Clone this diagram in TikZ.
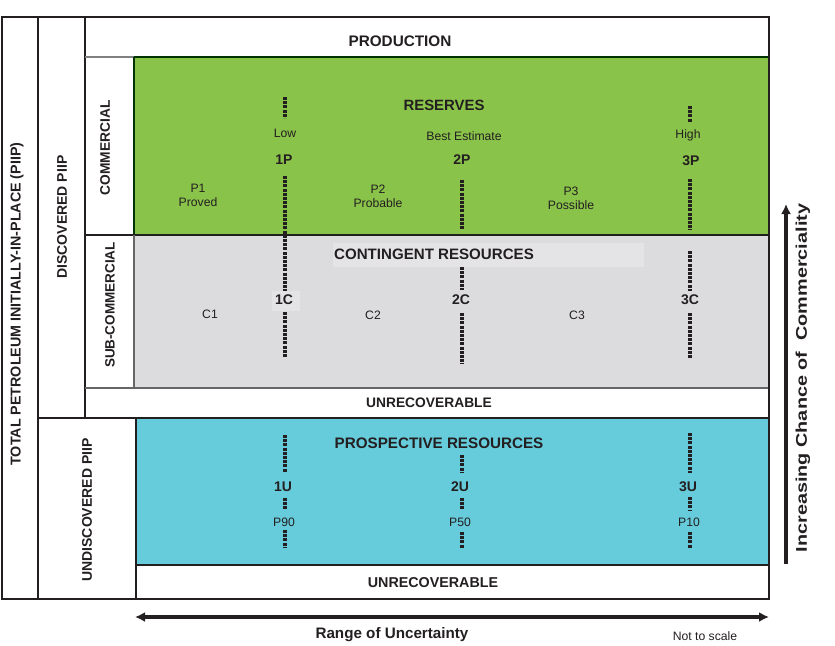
\documentclass[tikz,border=0pt]{standalone}
\usepackage{fontspec}
\setmainfont{Liberation Sans}
\usetikzlibrary{arrows.meta}
\definecolor{resgreen}{RGB}{138,195,74}
\definecolor{congray}{RGB}{220,220,222}
\definecolor{congraylt}{RGB}{228,228,230}
\definecolor{prosblue}{RGB}{102,203,218}
\definecolor{txt}{RGB}{35,31,32}
\newcommand{\fsz}[1]{\fontsize{#1}{#1}\selectfont}
\tikzset{
  head/.style={text=txt, inner sep=1pt},
  code/.style={font=\fsz{14}\bfseries, text=txt, inner sep=1pt},
  lab/.style={font=\fontsize{12.2}{14}\selectfont, text=txt, inner sep=1pt, align=center},
  side/.style={text=txt, rotate=90, inner sep=1pt},
  dl/.style={line width=4pt, dash pattern=on 3pt off 1.2pt, draw=txt},
  frame/.style={line width=1.2pt, draw=txt},
  tipb/.tip={Latex[length=10pt,width=10pt]},
  bigarrow/.style={line width=3.5pt, draw=txt, -tipb},
}
\begin{document}
\begin{tikzpicture}[x=1pt,y=-1pt]
\useasboundingbox (0,0) rectangle (835,645);
% coloured regions
\fill[resgreen] (134,57) rectangle (769,235);
\fill[congray] (134,235) rectangle (769,388);
\fill[congraylt] (333,243) rectangle (644,267);
\fill[congraylt] (272,291) rectangle (300,311);
\fill[prosblue] (136,418) rectangle (769,565);
% frame lines
\draw[frame] (2,17) rectangle (769,599);
\draw[frame] (38,17) -- (38,599);
\draw[frame] (85,17) -- (85,418);
\draw[draw=gray, line width=1.2pt] (85,57) -- (134,57);
\draw[draw=black!80!green, line width=1.4pt] (134,57) -- (769,57);
\draw[draw=black!80!green, line width=1.4pt] (134,57) -- (134,235);
\draw[frame] (85,235) -- (769,235);
\draw[draw=gray!80!black, line width=1.2pt] (134,235) -- (134,388);
\draw[draw=gray!80!black, line width=1.2pt] (85,388) -- (769,388);
\draw[line width=2.6pt, draw=txt] (38,418) -- (769,418);
\draw[line width=2pt, draw=txt] (136,418) -- (136,599);
\draw[line width=2.2pt, draw=txt] (136,565) -- (769,565);
\draw[frame] (769,17) -- (769,599);
% side labels
\node[side, font=\fsz{14.3}\bfseries] (tot) at (17,304) {TOTAL PETROLEUM INITIALLY-IN-PLACE (PIIP)};
\node[side, font=\fsz{14}\bfseries] (disc) at (62,217) {DISCOVERED PIIP};
\node[side, font=\fsz{14}\bfseries] (undisc) at (87,510) {UNDISCOVERED PIIP};
\node[side, font=\fsz{13.8}\bfseries] (comm) at (105,148) {COMMERCIAL};
\node[side, font=\fsz{13.5}\bfseries] (subc) at (110,305) {SUB-COMMERCIAL};
% headings
\node[head, font=\fsz{15.3}\bfseries] (prod) at (400,41) {PRODUCTION};
\node[head, font=\fsz{14.9}\bfseries] (res) at (444,105) {RESERVES};
\node[head, font=\fsz{15.1}\bfseries] (cont) at (434,254) {CONTINGENT RESOURCES};
\node[head, font=\fsz{13.8}\bfseries] (unrec1) at (429,403) {UNRECOVERABLE};
\node[head, font=\fsz{15.2}\bfseries] (pros) at (439,443) {PROSPECTIVE RESOURCES};
\node[head, font=\fsz{14.3}\bfseries] (unrec2) at (433,583) {UNRECOVERABLE};
% reserves row
\node[lab] (low) at (285,133) {Low};
\node[lab] (best) at (464,136) {Best Estimate};
\node[lab] (high) at (688,135) {High};
\node[code] (p1p) at (284,160) {1P};
\node[code] (p2p) at (462,160) {2P};
\node[code] (p3p) at (691,161) {3P};
\node[lab] (p1) at (198,195) {P1\\Proved};
\node[lab] (p2) at (378,196) {P2\\Probable};
\node[lab] (p3) at (571,198) {P3\\Possible};
% contingent row
\node[code] (c1c) at (284,300) {1C};
\node[code] (c2c) at (461,300) {2C};
\node[code] (c3c) at (690,300) {3C};
\node[lab] (c1) at (210,314) {C1};
\node[lab] (c2) at (373,315) {C2};
\node[lab] (c3) at (577,315) {C3};
% prospective row
\node[code] (u1) at (283,487) {1U};
\node[code] (u2) at (460,487) {2U};
\node[code] (u3) at (688,487) {3U};
\node[lab] (q90) at (284,522) {P90};
\node[lab] (q50) at (460,522) {P50};
\node[lab] (q10) at (689,522) {P10};
% dotted separators
\draw[dl] (285,97) -- (285,118);
\draw[dl] (285,176) -- (285,291);
\draw[dl] (285,312) -- (285,357);
\draw[dl] (462,180) -- (462,230);
\draw[dl] (462,267) -- (462,290);
\draw[dl] (462,313) -- (462,364);
\draw[dl] (690,106) -- (690,122);
\draw[dl] (690,179) -- (690,230);
\draw[dl] (690,251) -- (690,291);
\draw[dl] (690,313) -- (690,359);
\draw[dl] (285,435) -- (285,472);
\draw[dl] (285,498) -- (285,510);
\draw[dl] (285,530) -- (285,548);
\draw[dl] (462,455) -- (462,472);
\draw[dl] (462,498) -- (462,510);
\draw[dl] (462,532) -- (462,548);
\draw[dl] (690,433) -- (690,473);
\draw[dl] (690,497) -- (690,510);
\draw[dl] (690,532) -- (690,548);
% axes
\coordinate (hl) at (135,617);
\coordinate (hr) at (769,617);
\draw[bigarrow, tipb-tipb] (hl) -- (hr);
\node[font=\fsz{15.2}\bfseries, text=txt] (range) at (392,635) {Range of Uncertainty};
\node[font=\fsz{12.2}, text=txt] (nts) at (705,636) {Not to scale};
\coordinate (vb) at (786,564);
\coordinate (vt) at (786,204);
\draw[bigarrow] (vb) -- (vt);
\node[font=\fsz{15.5}\bfseries, text=txt, rotate=90] (inc) at (803,378) {\scalebox{1.28}[1]{Increasing Chance of \ Commerciality}};
\end{tikzpicture}
\end{document}
